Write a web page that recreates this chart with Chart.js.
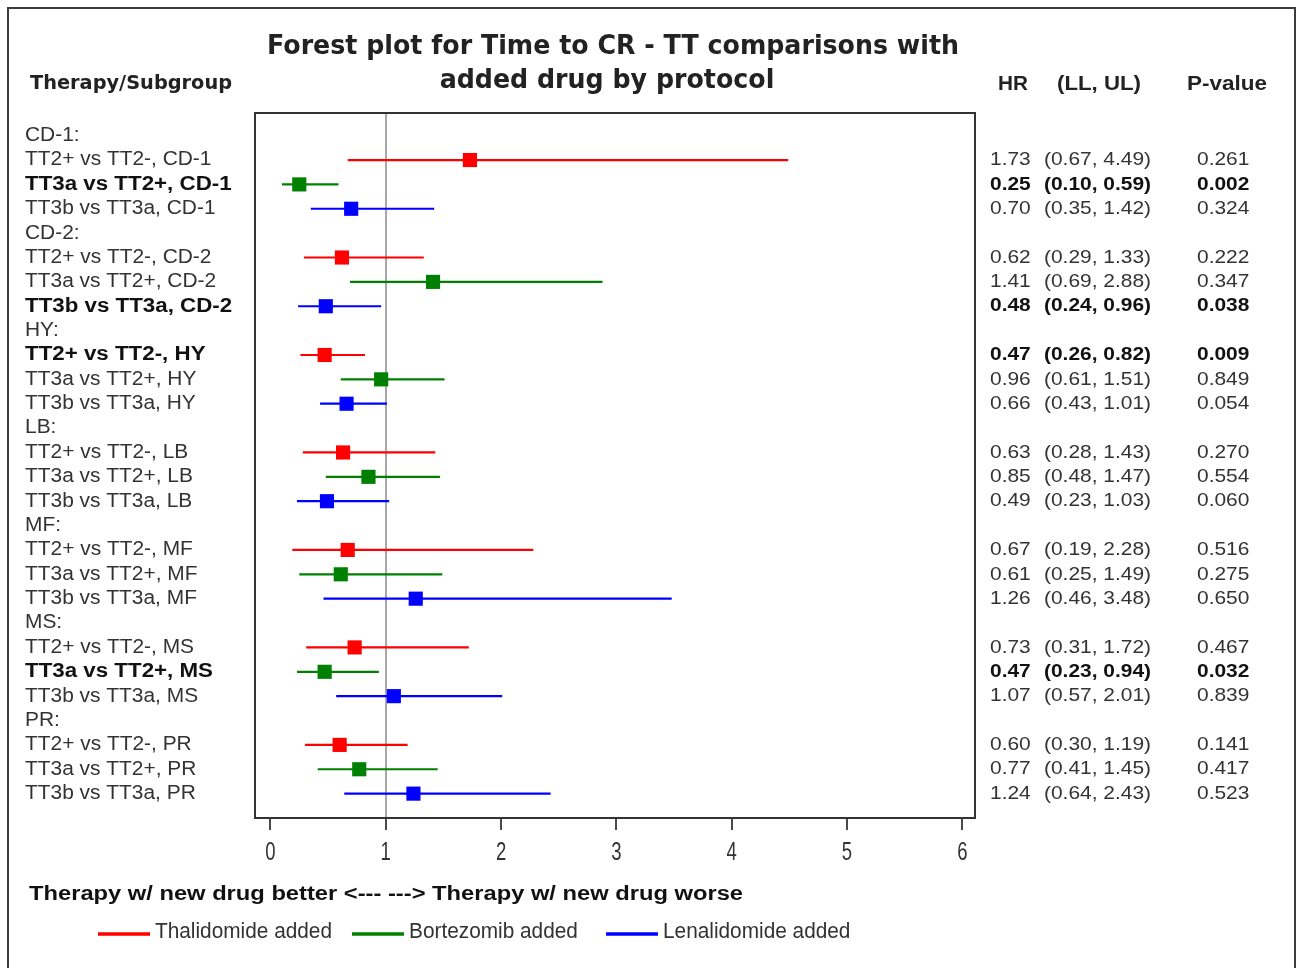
<!DOCTYPE html>
<html>
<head>
<meta charset="utf-8">
<script src="https://cdn.jsdelivr.net/npm/chart.js@4/dist/chart.umd.min.js"></script>
<style>
  html, body { margin: 0; padding: 0; background: #ffffff; }
  canvas { display: block; }
</style>
</head>
<body>
<canvas id="forest" width="1298" height="968"></canvas>
<script>
// Subgroups (protocols) and the three therapy comparisons within each
const subgroups = ['CD-1', 'CD-2', 'HY', 'LB', 'MF', 'MS', 'PR'];
const comparisons = ['TT2+ vs TT2-', 'TT3a vs TT2+', 'TT3b vs TT3a'];
const drugLabels = ['Thalidomide added', 'Bortezomib added', 'Lenalidomide added'];
const drugColors = ['#ff0000', '#008000', '#0000ff'];

// Thalidomide added (TT2+ vs TT2-)
const thalHR = [1.73, 0.62, 0.47, 0.63, 0.67, 0.73, 0.60];
const thalLL = [0.67, 0.29, 0.26, 0.28, 0.19, 0.31, 0.30];
const thalUL = [4.49, 1.33, 0.82, 1.43, 2.28, 1.72, 1.19];
const thalP  = ['0.261', '0.222', '0.009', '0.270', '0.516', '0.467', '0.141'];

// Bortezomib added (TT3a vs TT2+)
const bortHR = [0.25, 1.41, 0.96, 0.85, 0.61, 0.47, 0.77];
const bortLL = [0.10, 0.69, 0.61, 0.48, 0.25, 0.23, 0.41];
const bortUL = [0.59, 2.88, 1.51, 1.47, 1.49, 0.94, 1.45];
const bortP  = ['0.002', '0.347', '0.849', '0.554', '0.275', '0.032', '0.417'];

// Lenalidomide added (TT3b vs TT3a)
const lenaHR = [0.70, 0.48, 0.66, 0.49, 1.26, 1.07, 1.24];
const lenaLL = [0.35, 0.24, 0.43, 0.23, 0.46, 0.57, 0.64];
const lenaUL = [1.42, 0.96, 1.01, 1.03, 3.48, 2.01, 2.43];
const lenaP  = ['0.324', '0.038', '0.054', '0.060', '0.650', '0.839', '0.523'];

const xTicks = [0, 1, 2, 3, 4, 5, 6];

const titleLines = ['Forest plot for Time to CR - TT comparisons with', 'added drug by protocol'];
const xAxisTitle = 'Therapy w/ new drug better <--- ---> Therapy w/ new drug worse';

const hrAll = [thalHR, bortHR, lenaHR];
const llAll = [thalLL, bortLL, lenaLL];
const ulAll = [thalUL, bortUL, lenaUL];
const pAll  = [thalP, bortP, lenaP];

// One header row per subgroup followed by its three comparison rows
const rowOf = (g, k) => g * 4 + 1 + k;

const markerSets = drugLabels.map((label, k) => ({
  label,
  data: subgroups.map((s, g) => ({ x: hrAll[k][g], y: rowOf(g, k) })),
  pointStyle: 'rect',
  pointRadius: 10,
  pointHoverRadius: 10,
  pointBorderWidth: 0,
  backgroundColor: drugColors[k],
  borderColor: drugColors[k],
  showLine: false,
  order: 0
}));

const intervalSets = drugLabels.map((label, k) => {
  const pts = [];
  subgroups.forEach((s, g) => {
    pts.push({ x: llAll[k][g], y: rowOf(g, k) });
    pts.push({ x: ulAll[k][g], y: rowOf(g, k) });
    pts.push({ x: null, y: null });
  });
  return {
    label: label + ' CI',
    data: pts,
    showLine: true,
    spanGaps: false,
    borderColor: drugColors[k],
    borderWidth: 2.2,
    pointRadius: 0,
    pointHoverRadius: 0,
    order: 1
  };
});

function textScale(ctx, font, text, target) {
  ctx.font = font;
  return target / ctx.measureText(text).width;
}

function put(ctx, text, x, y, font, sx, align, color) {
  ctx.save();
  ctx.font = font;
  ctx.fillStyle = color;
  ctx.textBaseline = 'middle';
  ctx.textAlign = align;
  ctx.translate(x, y);
  ctx.scale(sx, 1);
  ctx.fillText(text, 0, 0);
  ctx.restore();
}

const SANS = "'Liberation Sans', Arial, sans-serif";
const HEAD = "'DejaVu Sans', Verdana, sans-serif";

const forestText = {
  id: 'forestText',
  afterDraw(chart) {
    const ctx = chart.ctx;
    const ca = chart.chartArea;
    const y = chart.scales.y;
    const x = chart.scales.x;

    // outer frame
    ctx.save();
    ctx.strokeStyle = '#3c3c3c';
    ctx.lineWidth = 2;
    ctx.strokeRect(8, 8, 1287, 1000);
    // plot box
    ctx.strokeStyle = '#333333';
    ctx.strokeRect(ca.left, ca.top, ca.right - ca.left, ca.bottom - ca.top);
    ctx.restore();

    // condensed x tick labels, placed at the scale's tick positions
    const tkFont = '25px ' + SANS;
    x.ticks.forEach(t => {
      put(ctx, String(t.value), x.getPixelForValue(t.value), 853, tkFont, 0.74, 'center', '#333');
    });

    // title
    const tFont = 'bold 26px ' + HEAD;
    const tsx = textScale(ctx, tFont, titleLines[0], 692);
    put(ctx, titleLines[0], 613, 47, tFont, tsx, 'center', '#222');
    put(ctx, titleLines[1], 607, 81, tFont, tsx, 'center', '#222');

    // column headers
    const hFont = 'bold 20px ' + HEAD;
    put(ctx, 'Therapy/Subgroup', 30, 84, hFont, textScale(ctx, hFont, 'Therapy/Subgroup', 202), 'left', '#222');
    const cFont = 'bold 20px ' + SANS;
    put(ctx, 'HR', 998, 84, cFont, textScale(ctx, cFont, 'HR', 30), 'left', '#222');
    put(ctx, '(LL, UL)', 1057, 84, cFont, textScale(ctx, cFont, '(LL, UL)', 84), 'left', '#222');
    put(ctx, 'P-value', 1187, 84, cFont, textScale(ctx, cFont, 'P-value', 80), 'left', '#222');

    // row labels and statistics
    const rFont = '19.5px ' + SANS;
    const bFont = 'bold 19.5px ' + SANS;
    const rsx = textScale(ctx, rFont, 'TT2+ vs TT2-, MS', 169);
    const bsx = textScale(ctx, bFont, 'TT3a vs TT2+, MS', 188);
    const vFont = '19px ' + SANS;
    const vbFont = 'bold 19px ' + SANS;
    const vsx = textScale(ctx, vFont, '(0.67, 4.49)', 107);
    const vbsx = textScale(ctx, vbFont, '(0.10, 0.59)', 107);

    subgroups.forEach((s, g) => {
      put(ctx, s + ':', 25, y.getPixelForValue(g * 4), rFont, rsx, 'left', '#333');
      comparisons.forEach((c, k) => {
        const py = y.getPixelForValue(rowOf(g, k));
        const sig = parseFloat(pAll[k][g]) < 0.05;
        const lf = sig ? bFont : rFont;
        const lsx = sig ? bsx : rsx;
        const col = sig ? '#111' : '#333';
        put(ctx, c + ', ' + s, 25, py, lf, lsx, 'left', col);
        const vf = sig ? vbFont : vFont;
        const vs = sig ? vbsx : vsx;
        const ci = '(' + llAll[k][g].toFixed(2) + ', ' + ulAll[k][g].toFixed(2) + ')';
        put(ctx, hrAll[k][g].toFixed(2), 990, py, vf, vs, 'left', col);
        put(ctx, ci, 1044, py, vf, vs, 'left', col);
        put(ctx, pAll[k][g], 1197, py, vf, vs, 'left', col);
      });
    });

    // axis caption
    const aFont = 'bold 20px ' + SANS;
    put(ctx, xAxisTitle, 29, 894, aFont, textScale(ctx, aFont, xAxisTitle, 714), 'left', '#111');

    // legend
    const lFont = '22px ' + SANS;
    const lsx2 = textScale(ctx, lFont, drugLabels[0], 177);
    const legendX = [98, 352, 606];
    drugLabels.forEach((lab, k) => {
      ctx.save();
      ctx.strokeStyle = drugColors[k];
      ctx.lineWidth = 3.5;
      ctx.beginPath();
      ctx.moveTo(legendX[k], 934);
      ctx.lineTo(legendX[k] + 52, 934);
      ctx.stroke();
      ctx.restore();
      put(ctx, lab, legendX[k] + 57, 932, lFont, lsx2, 'left', '#333');
    });
  }
};

new Chart(document.getElementById('forest'), {
  type: 'scatter',
  data: { datasets: [...markerSets, ...intervalSets] },
  options: {
    responsive: false,
    animation: false,
    events: [],
    layout: { padding: { left: 255, right: 323, top: 113, bottom: 0 } },
    plugins: {
      legend: { display: false },
      tooltip: { enabled: false },
      title: { display: false }
    },
    scales: {
      x: {
        type: 'linear',
        min: -0.134,
        max: 6.11,
        afterBuildTicks: (s) => { s.ticks = xTicks.map(v => ({ value: v })); },
        afterFit: (s) => { s.height = 150; },
        border: { display: false },
        grid: {
          drawOnChartArea: true,
          color: (c) => (c.tick && c.tick.value === 1 ? '#a8a8a8' : 'rgba(0,0,0,0)'),
          tickColor: '#4a4a4a',
          lineWidth: 2,
          tickLength: 12
        },
        ticks: {
          display: false,
          autoSkip: false,
          maxRotation: 0
        }
      },
      y: {
        type: 'linear',
        reverse: true,
        min: -0.93,
        max: 28.0,
        display: false
      }
    }
  },
  plugins: [forestText]
});
</script>
</body>
</html>
